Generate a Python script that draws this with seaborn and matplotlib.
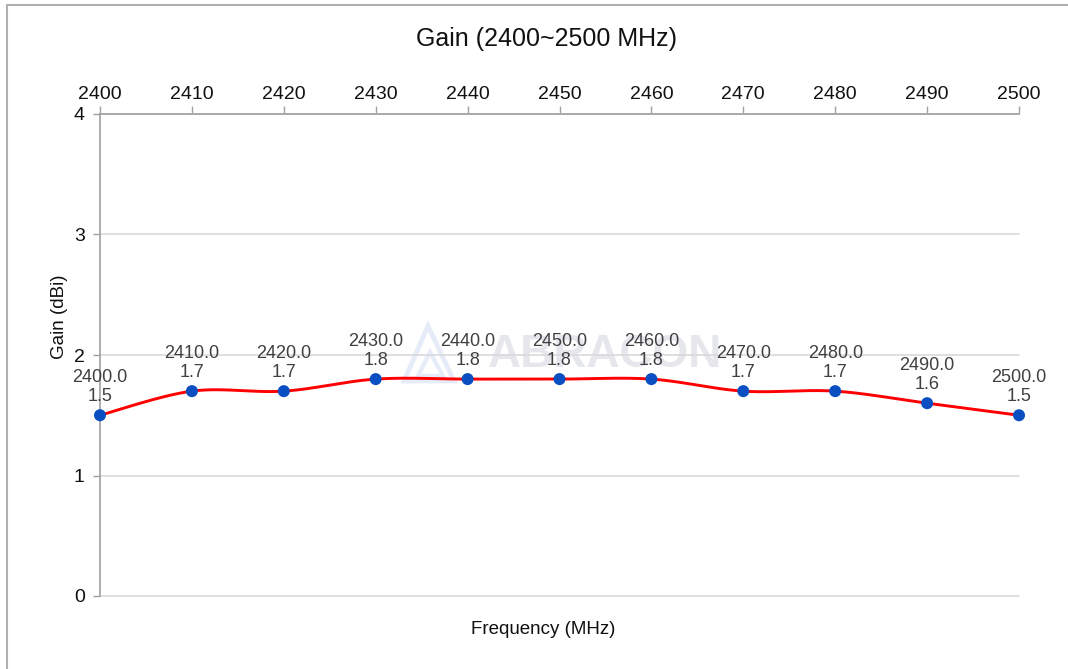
import numpy as np
import pandas as pd
import matplotlib
matplotlib.use("Agg")
import matplotlib.pyplot as plt
import seaborn as sns
from matplotlib.patches import Rectangle, Polygon

# data
freq_mhz = [2400, 2410, 2420, 2430, 2440, 2450, 2460, 2470, 2480, 2490, 2500]
gain_dbi = [1.5, 1.7, 1.7, 1.8, 1.8, 1.8, 1.8, 1.7, 1.7, 1.6, 1.5]
x_ticks = list(range(2400, 2501, 10))
y_ticks = [0, 1, 2, 3, 4]


def smooth_curve(xs, ys, n=30):
    """Excel-style smoothed line: cubic Bezier through every point."""
    p = np.column_stack([xs, ys]).astype(float)
    p_ext = np.vstack([p[0], p, p[-1]])
    out = []
    for i in range(len(p) - 1):
        p0, p1, p2, p3 = p_ext[i], p_ext[i + 1], p_ext[i + 2], p_ext[i + 3]
        c1 = p1 + (p2 - p0) / 6.0
        c2 = p2 - (p3 - p1) / 6.0
        t = np.linspace(0, 1, n)[:, None]
        seg = ((1 - t) ** 3) * p1 + 3 * ((1 - t) ** 2) * t * c1 + 3 * (1 - t) * t ** 2 * c2 + t ** 3 * p2
        out.append(seg if i == 0 else seg[1:])
    out = np.vstack(out)
    return pd.DataFrame({"freq": out[:, 0], "gain": out[:, 1]})


sns.set_theme(style="white")
plt.rcParams["font.family"] = ["Liberation Sans", "DejaVu Sans"]

fig = plt.figure(figsize=(10.68, 6.69), dpi=100)
ax = fig.add_axes([100 / 1068, 1 - 596 / 669, 919 / 1068, 482 / 669])
ax.set_axisbelow(True)

points = pd.DataFrame({"freq": freq_mhz, "gain": gain_dbi})
curve = smooth_curve(freq_mhz, gain_dbi)

# faint watermark, kept below the grid and the series
ax.text(605 / 1068, 1 - 355 / 669, "ABRACON", transform=fig.transFigure,
        ha="center", va="center", fontsize=33, fontweight="bold",
        color="#e5e7ec", zorder=0.1)
logo_outer = Polygon([[404 / 1068, 1 - 381 / 669], [428 / 1068, 1 - 326 / 669],
                      [454 / 1068, 1 - 381 / 669]], closed=True, fill=False,
                     edgecolor="#e6ecf7", linewidth=3.5, transform=fig.transFigure,
                     zorder=0.1)
logo_inner = Polygon([[418 / 1068, 1 - 376 / 669], [430 / 1068, 1 - 352 / 669],
                      [443 / 1068, 1 - 376 / 669]], closed=True, fill=False,
                     edgecolor="#e6ecf7", linewidth=3, transform=fig.transFigure,
                     zorder=0.1)
ax.add_patch(logo_outer)
ax.add_patch(logo_inner)

sns.lineplot(data=curve, x="freq", y="gain", color="#ff0000", linewidth=2.1,
             sort=False, estimator=None, ax=ax, zorder=3)
sns.scatterplot(data=points, x="freq", y="gain", color="#0a4fc2", s=75,
                edgecolor="none", ax=ax, zorder=4, clip_on=False)

# data labels
for f, g in zip(freq_mhz, gain_dbi):
    ax.annotate(f"{f:.1f}\n{g:.1f}", (f, g), xytext=(0, 7.5), textcoords="offset points",
                ha="center", va="bottom", fontsize=13, color="#404040",
                linespacing=1.15, zorder=5, annotation_clip=False)

ax.set_xlim(2400, 2500)
ax.set_ylim(0, 4)
ax.set_xticks(x_ticks)
ax.set_yticks(y_ticks)
ax.xaxis.tick_top()
ax.tick_params(axis="x", top=True, bottom=False, direction="out", length=6,
               width=1, color="#a0a0a0", labelsize=14, labelcolor="#111111", pad=2)
ax.tick_params(axis="y", left=True, direction="out", length=5,
               width=1, color="#a0a0a0", labelsize=14, labelcolor="#111111", pad=6)

ax.grid(axis="y", color="#d9d9d9", linewidth=1.2)
ax.grid(axis="x", visible=False)
for gl in ax.get_ygridlines():
    gl.set_clip_on(False)
for side in ["right", "bottom"]:
    ax.spines[side].set_visible(False)
for side in ["top", "left"]:
    ax.spines[side].set_color("#a0a0a0")
    ax.spines[side].set_linewidth(1.2)

ax.set_xlabel("")
ax.set_ylabel("Gain (dBi)", fontsize=13.5, color="#111111")
ax.yaxis.set_label_coords(-0.035, 0.58)

fig.text(547 / 1068, 1 - 39 / 669, "Gain (2400~2500 MHz)", ha="center", va="center",
         fontsize=18, color="#111111")
fig.text(543 / 1068, 1 - 630 / 669, "Frequency (MHz)", ha="center", va="center",
         fontsize=13.5, color="#111111")

# outer chart border
fig.patches.append(Rectangle((7 / 1068, -0.05), 1.1, 1 - 5 / 669 + 0.05, fill=False,
                             edgecolor="#b0b0b0", linewidth=1.5,
                             transform=fig.transFigure))

fig.savefig("out.png", dpi=100)
